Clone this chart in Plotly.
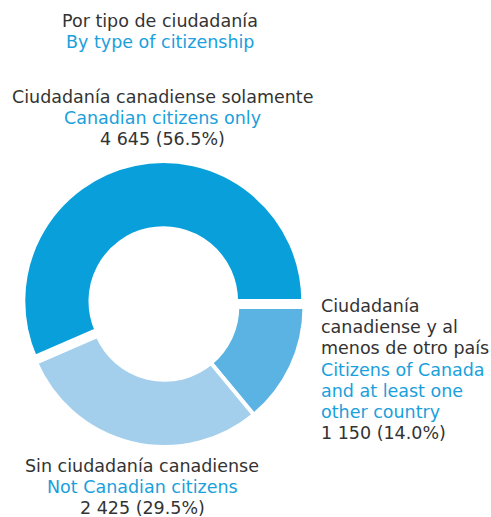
import plotly.graph_objects as go

title_es = "Por tipo de ciudadanía"
title_en = "By type of citizenship"
labels_es = [["Ciudadanía canadiense solamente"],
             ["Ciudadanía", "canadiense y al", "menos de otro país"],
             ["Sin ciudadanía canadiense"]]
labels_en = [["Canadian citizens only"],
             ["Citizens of Canada", "and at least one", "other country"],
             ["Not Canadian citizens"]]
values = [4645, 1150, 2425]
colors = ["#089fda", "#5ab3e3", "#a3cfec"]

DARK = "#333333"
BLUE = "#1aa0dc"
FONT = "DejaVu Sans"
FS = 17.5
LH = 21.2
W, H = 491, 517

total = sum(values)

def fmt(v):
    return f"{v:,}".replace(",", " ")

# first slice ends at 3 o'clock going counterclockwise -> start it clockwise from there
rot = 90 - 360 * values[0] / total

cx, cy, R = 164.5, 307, 146
fig = go.Figure()
fig.add_trace(go.Pie(
    values=values,
    labels=[" ".join(l) for l in labels_es],
    marker=dict(colors=colors, line=dict(color="white", width=4)),
    hole=0.52,
    sort=False,
    direction="clockwise",
    rotation=rot,
    pull=[0.043, 0, 0],
    textinfo="none",
    hoverinfo="label+value+percent",
    showlegend=False,
    domain=dict(x=[(cx - R) / W, (cx + R) / W], y=[(H - cy - R) / H, (H - cy + R) / H]),
))

ann = []
def block(x, y0, lines, anchor):
    for i, (t, c) in enumerate(lines):
        ann.append(dict(x=x / W, y=1 - (y0 + i * LH) / H, xref="paper", yref="paper",
                        xanchor=anchor, yanchor="middle", align=anchor,
                        text=t, showarrow=False, font=dict(family=FONT, size=FS, color=c)))

def pct(v):
    return f"{fmt(v)} ({100*v/total:.1f}%)"

def lines_for(i):
    return [(t, DARK) for t in labels_es[i]] + [(t, BLUE) for t in labels_en[i]] + [(pct(values[i]), DARK)]

block(160, 21, [(title_es, DARK), (title_en, BLUE)], "center")
block(162, 97, lines_for(0), "center")
block(319, 306, lines_for(1), "left")
block(142, 465.5, lines_for(2), "center")

fig.update_layout(
    width=W, height=H,
    margin=dict(l=0, r=0, t=0, b=0),
    paper_bgcolor="white", plot_bgcolor="white",
    annotations=ann,
    font=dict(family=FONT),
)
fig.write_html("out.html", config={"displayModeBar": False},
               post_script="document.body.style.margin='0';document.body.style.overflow='hidden';")
